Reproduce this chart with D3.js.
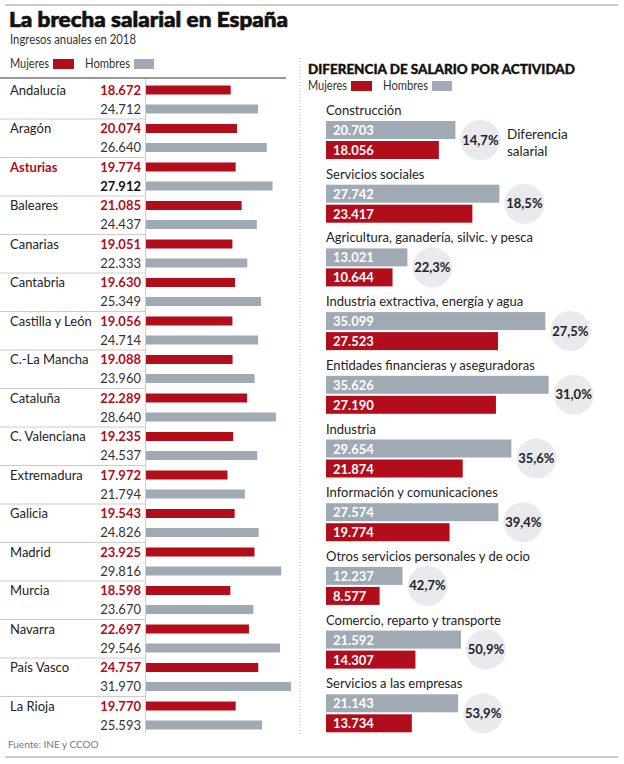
<!DOCTYPE html>
<html><head><meta charset="utf-8">
<script src="https://cdn.jsdelivr.net/npm/d3@7"></script>
<style>
body{margin:0;background:#fff;}
svg{display:block;font-family:Lato,"Noto Sans",sans-serif;}
</style></head>
<body>
<script>
const regions = ["Andalucía","Aragón","Asturias","Baleares","Canarias","Cantabria","Castilla y León","C.-La Mancha","Cataluña","C. Valenciana","Extremadura","Galicia","Madrid","Murcia","Navarra","País Vasco","La Rioja"];
const mujeres = [18672,20074,19774,21085,19051,19630,19056,19088,22289,19235,17972,19543,23925,18598,22697,24757,19770];
const hombres = [24712,26640,27912,24437,22333,25349,24714,23960,28640,24537,21794,24826,29816,23670,29546,31970,25593];
const highlight = "Asturias";

const actividades = ["Construcción","Servicios sociales","Agricultura, ganadería, silvic. y pesca","Industria extractiva, energía y agua","Entidades financieras y aseguradoras","Industria","Información y comunicaciones","Otros servicios personales y de ocio","Comercio, reparto y transporte","Servicios a las empresas"];
const actHombres = [20703,27742,13021,35099,35626,29654,27574,12237,21592,21143];
const actMujeres = [18056,23417,10644,27523,27190,21874,19774,8577,14307,13734];
const actDiferencia = ["14,7%","18,5%","22,3%","27,5%","31,0%","35,6%","39,4%","42,7%","50,9%","53,9%"];

const RED = "#b10d1b", GRAY = "#a0aab5", CIRCLE = "#e8eaee", TXT = "#222";
const fmt = v => d3.format(",")(v).replace(/,/g, ".");

const W = 624, H = 764;
const svg = d3.select("body").append("svg").attr("width", W).attr("height", H);

// frame lines
svg.append("line").attr("x1",5).attr("x2",618).attr("y1",5).attr("y2",5).attr("stroke","#9a9a9a").attr("stroke-width",1.2);
svg.append("line").attr("x1",5).attr("x2",618).attr("y1",757).attr("y2",757).attr("stroke","#9a9a9a").attr("stroke-width",1.2);
svg.append("line").attr("x1",300).attr("x2",300).attr("y1",58).attr("y2",735).attr("stroke","#bbb").attr("stroke-dasharray","1,2");

// title
svg.append("text").attr("x",9).attr("y",27).text("La brecha salarial en España")
  .attr("font-size",21.5).attr("font-weight",900).attr("fill","#111")
  .attr("stroke","#111").attr("stroke-width",0.7)
  .attr("textLength",279).attr("lengthAdjust","spacingAndGlyphs");
svg.append("text").attr("x",10).attr("y",44).text("Ingresos anuales en 2018")
  .attr("font-size",12.5).attr("fill","#333").attr("textLength",126).attr("lengthAdjust","spacingAndGlyphs");

// legends
function legend(g, x, y){
  g.append("text").attr("x",x).attr("y",y).text("Mujeres").attr("font-size",12.5).attr("fill","#333")
    .attr("textLength",39).attr("lengthAdjust","spacingAndGlyphs");
  g.append("rect").attr("x",x+43).attr("y",y-9).attr("width",21).attr("height",10).attr("fill",RED);
  g.append("text").attr("x",x+75).attr("y",y).text("Hombres").attr("font-size",12.5).attr("fill","#333")
    .attr("textLength",45).attr("lengthAdjust","spacingAndGlyphs");
  g.append("rect").attr("x",x+124).attr("y",y-9).attr("width",20).attr("height",10).attr("fill",GRAY);
}
legend(svg, 10, 68);

svg.append("line").attr("x1",0).attr("x2",286).attr("y1",78).attr("y2",78).attr("stroke","#777").attr("stroke-width",1.5);

// left chart
const xL = d3.scaleLinear().domain([0,40000]).range([146, 146+181.4]);
const yL = d3.scaleBand().domain(regions).range([80.5, 735]);
const left = svg.append("g");
left.append("line").attr("x1",145.5).attr("x2",145.5).attr("y1",79).attr("y2",733).attr("stroke","#ccc");

const rows = left.selectAll("g.row").data(regions).join("g").attr("class","row")
  .attr("transform", d => `translate(0,${yL(d)})`);
rows.filter((d,i)=>i>0).append("line").attr("x1",0).attr("x2",145).attr("y1",0).attr("y2",0).attr("stroke","#ccc");
rows.append("text").attr("x",10).attr("y",14).text(d=>d).attr("font-size",13)
  .attr("fill", d => d===highlight ? RED : TXT).attr("font-weight", d => d===highlight ? 700 : 400);
rows.append("text").attr("x",141).attr("y",14).attr("text-anchor","end").text((d,i)=>fmt(mujeres[i]))
  .attr("font-size",13).attr("font-weight",700).attr("fill",RED);
rows.append("text").attr("x",141).attr("y",33).attr("text-anchor","end").text((d,i)=>fmt(hombres[i]))
  .attr("font-size",13).attr("font-weight", d => d===highlight ? 700 : 400).attr("fill", d => d===highlight ? "#111" : "#333");
rows.append("rect").attr("x",xL(0)).attr("y",5).attr("height",9).attr("width",(d,i)=>xL(mujeres[i])-xL(0)).attr("fill",RED);
rows.append("rect").attr("x",xL(0)).attr("y",24).attr("height",9).attr("width",(d,i)=>xL(hombres[i])-xL(0)).attr("fill",GRAY);

svg.append("text").attr("x",8).attr("y",748).text("Fuente: INE y CCOO").attr("font-size",10).attr("fill","#777");

// right chart
svg.append("text").attr("x",308).attr("y",74).text("DIFERENCIA DE SALARIO POR ACTIVIDAD")
  .attr("font-size",14).attr("font-weight",900).attr("fill","#111")
  .attr("stroke","#111").attr("stroke-width",0.4)
  .attr("textLength",267).attr("lengthAdjust","spacingAndGlyphs");
legend(svg, 308, 90);

const xR = d3.scaleLinear().domain([0,40000]).range([326, 576]);
const yR = d3.scaleLinear().domain([0, 9]).range([110, 110+63.7*9]);
const cats = svg.append("g").selectAll("g").data(actividades).join("g")
  .attr("transform",(d,i)=>`translate(0,${yR(i)})`);
cats.append("text").attr("x",326).attr("y",5).text(d=>d).attr("font-size",13).attr("fill",TXT);
cats.append("rect").attr("x",xR(0)).attr("y",11).attr("height",18).attr("width",(d,i)=>xR(actHombres[i])-xR(0)).attr("fill",GRAY);
cats.append("rect").attr("x",xR(0)).attr("y",31).attr("height",18).attr("width",(d,i)=>xR(actMujeres[i])-xR(0)).attr("fill",RED);
cats.append("text").attr("x",333).attr("y",25).text((d,i)=>fmt(actHombres[i])).attr("font-size",13).attr("font-weight",700).attr("fill","#fff");
cats.append("text").attr("x",333).attr("y",45).text((d,i)=>fmt(actMujeres[i])).attr("font-size",13).attr("font-weight",700).attr("fill","#fff");
cats.append("circle").attr("cx",(d,i)=>xR(actHombres[i])+25).attr("cy",30).attr("r",20).attr("fill",CIRCLE);
cats.append("text").attr("x",(d,i)=>xR(actHombres[i])+25).attr("y",34.5).attr("text-anchor","middle")
  .text((d,i)=>actDiferencia[i]).attr("font-size",13).attr("font-weight",700).attr("fill","#222");
const first = cats.filter((d,i)=>i===0);
first.append("text").attr("x",507).attr("y",29).text("Diferencia").attr("font-size",13.5).attr("fill",TXT);
first.append("text").attr("x",507).attr("y",46).text("salarial").attr("font-size",13.5).attr("fill",TXT);
</script>
</body></html>
